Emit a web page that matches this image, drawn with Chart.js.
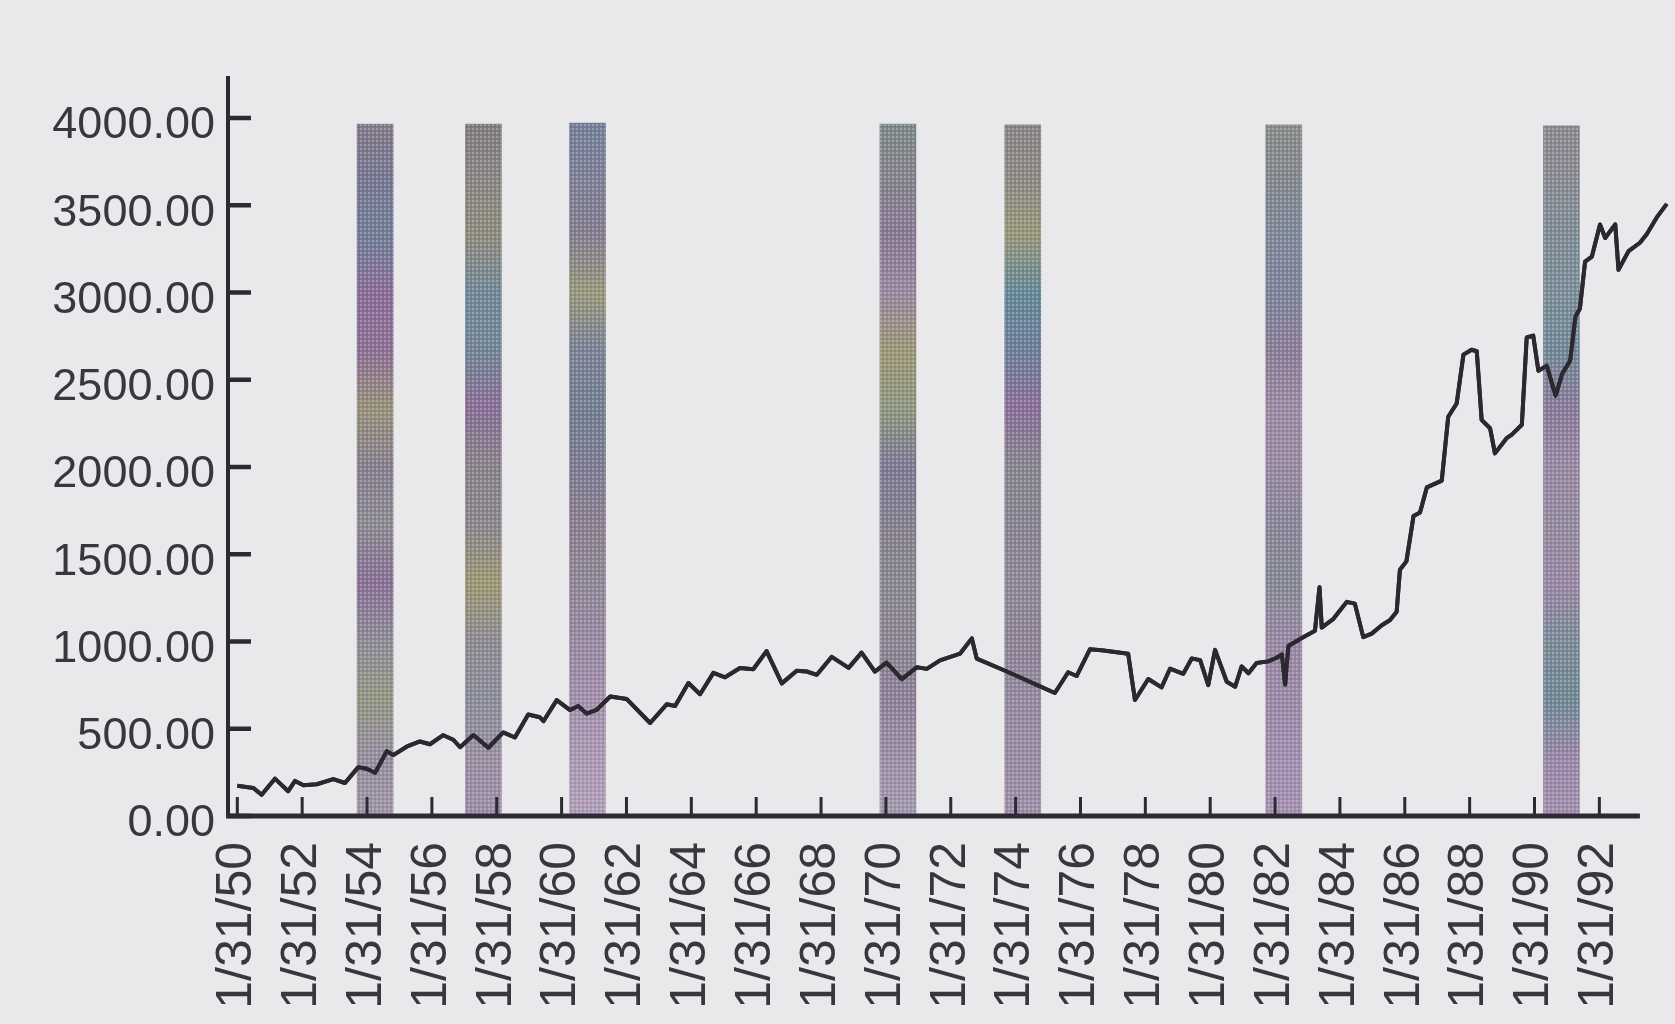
<!DOCTYPE html>
<html>
<head>
<meta charset="utf-8">
<script src="https://cdn.jsdelivr.net/npm/chart.js@4.4.1/dist/chart.umd.min.js"></script>
<style>
  html, body { margin: 0; padding: 0; background: #e9e9eb; }
  canvas { display: block; }
</style>
</head>
<body>
<canvas id="chart" width="1675" height="1024"></canvas>
<script>
// ---------- DATA ----------
const tickYears = [1950, 1952, 1954, 1956, 1958, 1960, 1962, 1964, 1966, 1968, 1970,
                   1972, 1974, 1976, 1978, 1980, 1982, 1984, 1986, 1988, 1990, 1992];
const yTickValues = [0, 500, 1000, 1500, 2000, 2500, 3000, 3500, 4000];

const dowYears = [
  1950.00, 1950.49, 1950.75, 1951.16, 1951.57, 1951.78, 1952.04, 1952.45, 1952.96, 1953.32,
  1953.73, 1953.99, 1954.25, 1954.61, 1954.81, 1955.22, 1955.63, 1955.94, 1956.35, 1956.66,
  1956.87, 1957.28, 1957.74, 1958.20, 1958.56, 1958.97, 1959.33, 1959.44, 1959.85, 1960.26,
  1960.51, 1960.77, 1961.08, 1961.50, 1962.01, 1962.73, 1963.24, 1963.50, 1963.91, 1964.27,
  1964.68, 1965.04, 1965.50, 1965.91, 1966.32, 1966.79, 1967.25, 1967.56, 1967.87, 1968.33,
  1968.85, 1969.25, 1969.66, 1970.02, 1970.49, 1970.95, 1971.26, 1971.67, 1972.29, 1972.65,
  1972.80, 1973.73, 1974.65, 1975.21, 1975.62, 1975.88, 1976.29, 1976.65, 1977.47, 1977.68,
  1978.09, 1978.50, 1978.76, 1979.17, 1979.43, 1979.69, 1979.94, 1980.15, 1980.51, 1980.77,
  1980.97, 1981.18, 1981.43, 1981.79, 1982.05, 1982.21, 1982.31, 1982.41, 1982.77, 1983.23,
  1983.37, 1983.44, 1983.80, 1984.00, 1984.21, 1984.46, 1984.72, 1984.98, 1985.29, 1985.54,
  1985.75, 1985.85, 1986.05, 1986.27, 1986.47, 1986.68, 1987.14, 1987.34, 1987.60, 1987.81,
  1988.06, 1988.22, 1988.37, 1988.63, 1988.78, 1989.14, 1989.30, 1989.61, 1989.76, 1989.96,
  1990.12, 1990.38, 1990.65, 1990.85, 1991.10, 1991.26, 1991.40, 1991.56, 1991.77, 1992.02,
  1992.18, 1992.49, 1992.59, 1992.90, 1993.25, 1993.46, 1993.77, 1994.08
];
const dowValues = [
   173,  161,  122,  214,  142,  201,  176,  182,  211,  189,
   280,  271,  248,  372,  349,  397,  427,  411,  463,  437,
   394,  464,  391,  479,  450,  582,  566,  543,  664,  607,
   630,  587,  608,  685,  670,  533,  640,  630,  762,  698,
   820,  795,  848,  841,  945,  760,  832,  828,  809,  912,
   849,  936,  827,  879,  784,  852,  843,  892,  931, 1018,
   902,  828,  751,  705,  824,  802,  955,  950,  930,  665,
   785,  737,  844,  815,  903,  893,  750,  952,  769,  741,
   857,  818,  877,  886,  907,  926,  753,  974, 1014, 1061,
  1311, 1080, 1130, 1178, 1227, 1217, 1025, 1045, 1093, 1122,
  1171, 1411, 1459, 1719, 1739, 1883, 1922, 2288, 2364, 2644,
  2672, 2663, 2270, 2222, 2078, 2165, 2185, 2242, 2742, 2753,
  2551, 2580, 2408, 2532, 2610, 2860, 2908, 3177, 3206, 3390,
  3312, 3390, 3130, 3237, 3285, 3334, 3430, 3508
];

const recessionYears   = [1954.25, 1957.59, 1960.80, 1970.37, 1974.22, 1982.27, 1990.83];
const recessionHeights = [3965, 3965, 3970, 3965, 3960, 3960, 3955];

const xAxisEndYear = 1993.25;

// ---------- STYLE ----------
const barPalettes = [
  ['#857b89', '#787892', '#727f98', '#8a6e98', '#8d7095', '#98927a', '#88808f', '#8e8b92', '#8a7196', '#8f8d97', '#959782', '#958ea0', '#a297a8'],
  ['#817b7e', '#8a8684', '#8f8c7c', '#728a98', '#738696', '#8a6f98', '#8a8488', '#8c878c', '#9c9872', '#8e8c92', '#8c8e9c', '#9a90a2', '#9e8faa'],
  ['#73809a', '#7e8196', '#857e90', '#98987a', '#7c8396', '#728090', '#7e7c92', '#8c8090', '#908898', '#9a8aa2', '#a490ac', '#ac9ab4', '#b2a0ba'],
  ['#7e8a88', '#85848c', '#8a7a94', '#9a88a0', '#9c9874', '#8e987e', '#7e7a94', '#86828e', '#8a8890', '#8c8692', '#8e8098', '#9c90a6', '#a49ab0'],
  ['#8a8588', '#8e8a84', '#98987a', '#648a98', '#6e809a', '#8c7098', '#888590', '#8a8592', '#908898', '#8e8496', '#968aa0', '#9a8ca4', '#a090aa'],
  ['#8a8f8a', '#84898e', '#80899a', '#7e859a', '#8c7e98', '#9e8aa4', '#9a8aa2', '#8a889a', '#888a96', '#9a88a4', '#9e8aa8', '#a38eb0', '#a792b2'],
  ['#8e8a90', '#8a8c92', '#808e98', '#7c8f98', '#728a98', '#8a7c9a', '#9a8aa4', '#958ca0', '#9a88a4', '#7c8c98', '#728a96', '#9a88a8', '#a490ae']
];

const textColor = '#38373c';
const axisColor = '#2d2a33';

// halftone dot pattern to mimic the printed texture
function makeDotPattern() {
  const c = document.createElement('canvas');
  c.width = 4; c.height = 4;
  const g = c.getContext('2d');
  g.fillStyle = 'rgba(235,232,240,0.28)';
  g.fillRect(0, 0, 2, 2);
  g.fillStyle = 'rgba(40,30,50,0.10)';
  g.fillRect(2, 2, 2, 2);
  return g.createPattern(c, 'repeat');
}

const paperPlugin = {
  id: 'paper',
  beforeDraw(chart) {
    const ctx = chart.ctx;
    ctx.save();
    ctx.fillStyle = '#e9e9eb';
    ctx.fillRect(0, 0, chart.width, chart.height);
    ctx.restore();
  }
};

const axesPlugin = {
  id: 'inwardAxes',
  afterDatasetsDraw(chart) {
    const { ctx, chartArea, scales: { x, y } } = chart;
    ctx.save();
    // texture over recession bars
    const barMeta = chart.getDatasetMeta(1);
    const pat = makeDotPattern();
    barMeta.data.forEach(el => {
      const p = el.getProps(['x', 'y', 'base', 'width'], true);
      ctx.fillStyle = pat;
      ctx.fillRect(p.x - p.width / 2, p.y, p.width, p.base - p.y);
    });
    // redraw line on top of texture
    chart.getDatasetMeta(0).dataset.draw(ctx, chartArea);

    ctx.strokeStyle = axisColor;
    ctx.lineCap = 'butt';
    // x axis line
    ctx.lineWidth = 5;
    ctx.beginPath();
    ctx.moveTo(chartArea.left - 2, chartArea.bottom);
    ctx.lineTo(x.getPixelForValue(xAxisEndYear), chartArea.bottom);
    ctx.stroke();
    // x tick marks (inward)
    ctx.lineWidth = 3;
    ctx.beginPath();
    x.ticks.forEach(t => {
      const px = x.getPixelForValue(t.value);
      ctx.moveTo(px, chartArea.bottom);
      ctx.lineTo(px, chartArea.bottom - 19);
    });
    ctx.stroke();
    // y tick marks (inward)
    ctx.lineWidth = 4.5;
    ctx.beginPath();
    y.ticks.forEach(t => {
      const py = y.getPixelForValue(t.value);
      ctx.moveTo(chartArea.left, py);
      ctx.lineTo(chartArea.left + 23, py);
    });
    ctx.stroke();
    ctx.restore();
  }
};

const lineData = dowYears.map((yr, i) => ({ x: yr, y: dowValues[i] }));
const barData = recessionYears.map((yr, i) => ({ x: yr, y: recessionHeights[i] }));

new Chart(document.getElementById('chart'), {
  type: 'bar',
  data: {
    datasets: [
      {
        type: 'line',
        label: 'Index',
        data: lineData,
        borderColor: '#2c282f',
        borderWidth: 4,
        pointRadius: 0,
        tension: 0,
        borderJoinStyle: 'round',
        clip: false,
        order: 0
      },
      {
        type: 'bar',
        label: 'Recession',
        data: barData,
        barThickness: 36,
        borderWidth: 0,
        order: 1,
        backgroundColor: (ctx) => {
          const chart = ctx.chart;
          const { chartArea, scales } = chart;
          if (!chartArea || !scales.y) return '#8c8593';
          const top = scales.y.getPixelForValue(4000);
          const bottom = scales.y.getPixelForValue(0);
          const pal = barPalettes[ctx.dataIndex % barPalettes.length];
          const g = chart.ctx.createLinearGradient(0, top, 0, bottom);
          pal.forEach((c, k) => g.addColorStop(k / (pal.length - 1), c));
          return g;
        }
      }
    ]
  },
  options: {
    responsive: false,
    animation: false,
    events: [],
    layout: { padding: { top: 78, right: 3, left: 0, bottom: 0 } },
    plugins: { legend: { display: false }, tooltip: { enabled: false } },
    scales: {
      x: {
        type: 'linear',
        offset: false,
        min: 1949.713,
        max: 1994.24,
        grid: { display: false, drawTicks: false, offset: false },
        border: { display: false },
        afterBuildTicks: (scale) => { scale.ticks = tickYears.map(v => ({ value: v })); },
        afterFit: (scale) => { scale.height = 208; scale.paddingLeft = 0; scale.paddingRight = 0; },
        ticks: {
          autoSkip: false,
          minRotation: 90,
          maxRotation: 90,
          padding: 26,
          color: textColor,
          font: { family: 'Liberation Sans', size: 50 },
          callback: (v) => '1/31/' + String(v).slice(2)
        }
      },
      y: {
        type: 'linear',
        min: 0,
        max: 4229,
        grid: { display: false, drawTicks: false },
        border: { display: true, color: axisColor, width: 4 },
        afterBuildTicks: (scale) => { scale.ticks = yTickValues.map(v => ({ value: v })); },
        afterFit: (scale) => { scale.width = 228; },
        ticks: {
          padding: 13,
          labelOffset: 8,
          color: textColor,
          font: { family: 'Liberation Sans', size: 45 },
          callback: (v) => Number(v).toFixed(2)
        }
      }
    }
  },
  plugins: [paperPlugin, axesPlugin]
});
</script>
</body>
</html>
